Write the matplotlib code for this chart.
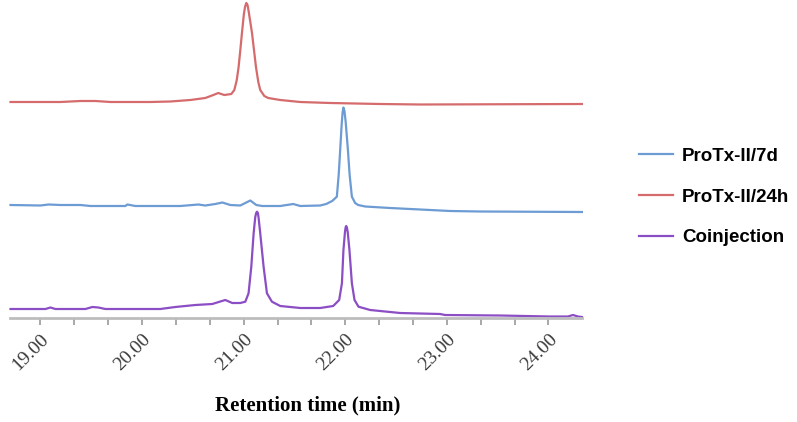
"""
HPLC overlay: ProTx-II stability (24 h, 7 d) and coinjection traces.
Signals are in arbitrary detector units, already stacked for display.
"""

import matplotlib
matplotlib.use("Agg")
import matplotlib.pyplot as plt

# ProTx-II/24h (red) -- retention time (min), signal (a.u.)
red_t = [18.705, 19.197, 19.393, 19.541, 19.688, 20.082, 20.278, 20.475, 20.622,
         20.701, 20.750, 20.809, 20.878, 20.908, 20.932, 20.950, 20.967, 20.983,
         21.001, 21.013, 21.026, 21.038, 21.050, 21.082, 21.121, 21.144, 21.163,
         21.203, 21.242, 21.360, 21.557, 21.852, 22.343, 22.737, 24.329]
red_y = [216, 216, 217, 217, 216, 216, 216.5, 218, 220,
         223, 225, 223, 224, 228, 238, 251, 268, 285,
         303, 311, 315, 313, 306, 285, 251, 236, 228,
         222, 220, 218, 216, 215, 214, 213.5, 214]

# ProTx-II/7d (blue)
blue_t = [18.705, 19.000, 19.079, 19.197, 19.393, 19.492, 19.836, 19.855, 19.934,
          20.377, 20.554, 20.622, 20.721, 20.790, 20.868, 20.967, 21.065, 21.124,
          21.183, 21.360, 21.488, 21.557, 21.753, 21.812, 21.871, 21.917, 21.935,
          21.950, 21.964, 21.974, 21.982, 21.992, 22.004, 22.026, 22.043, 22.065,
          22.097, 22.127, 22.196, 22.441, 22.737, 23.031, 23.326, 24.329]
blue_y = [113, 112.5, 113.5, 113, 113, 112, 112, 113.5, 112,
          112, 113.5, 112.5, 114, 115.5, 113, 112.5, 117.5, 113,
          112, 112, 114, 112, 112.5, 114, 117, 121.3, 143,
          168, 193, 206, 210.5, 207, 196, 168, 143, 121.3,
          115, 113, 111.5, 110, 108.5, 107, 106.5, 106]

# Coinjection (purple)
purple_t = [18.705, 19.049, 19.098, 19.147, 19.442, 19.511, 19.570, 19.639, 20.180,
            20.327, 20.524, 20.691, 20.770, 20.819, 20.888, 20.967, 21.016, 21.048,
            21.075, 21.098, 21.114, 21.123, 21.131, 21.140, 21.147, 21.163, 21.196,
            21.229, 21.278, 21.360, 21.557, 21.753, 21.881, 21.940, 21.967, 21.982,
            21.997, 22.003, 22.009, 22.016, 22.024, 22.041, 22.065, 22.091, 22.130,
            22.245, 22.540, 22.933, 22.982, 23.523, 24.015, 24.192, 24.241, 24.290,
            24.329]
purple_y = [9, 9, 10.5, 9, 9, 11, 10.5, 9, 9,
            11, 13, 14, 16.5, 18, 15, 15, 16.3, 24.7,
            51.3, 84.7, 101, 105, 106.3, 105, 100, 84.7, 51.3,
            24.7, 16.3, 12, 10, 10, 12, 18, 34.7, 68,
            86, 90.5, 92, 90.5, 86, 68, 34.7, 18, 11.3,
            8, 5, 4, 3, 2.5, 1.5, 1.5, 3, 1.5,
            1]

tick_pos = [19 + k / 3 for k in range(16)]
tick_lab = ["19.00", "", "", "20.00", "", "", "21.00", "", "",
            "22.00", "", "", "23.00", "", "", "24.00"]

RED, BLUE, PURPLE = "#d56b6c", "#6d9bd3", "#8c4ec4"

fig = plt.figure(figsize=(7.97, 4.22), dpi=100)
ax = fig.add_axes([10 / 797, 1 - 318 / 422, 572 / 797, 318 / 422])

l_red, = ax.plot(red_t, red_y, color=RED, lw=1.6, clip_on=False)
l_blue, = ax.plot(blue_t, blue_y, color=BLUE, lw=1.6, clip_on=False)
l_pur, = ax.plot(purple_t, purple_y, color=PURPLE, lw=1.6, clip_on=False)

ax.set_xlim(18.70, 24.33)
ax.set_ylim(0, 318)
for s in ("left", "right", "top"):
    ax.spines[s].set_visible(False)
ax.spines["bottom"].set_color("#bdbdbd")
ax.spines["bottom"].set_linewidth(2)
ax.set_yticks([])
ax.set_xticks(tick_pos)
ax.set_xticklabels(tick_lab, rotation=45, ha="right", va="top",
                   rotation_mode="anchor", family="Liberation Serif",
                   fontsize=14, color="#3a3a3a")
ax.tick_params(axis="x", direction="out", length=5, width=1.2, color="#9a9a9a",
               pad=4)
ax.set_xlabel("Retention time (min)", family="Liberation Serif",
              fontweight="bold", fontsize=15, va="center")
ax.xaxis.set_label_coords((308 - 10) / 572, (318 - 405) / 318)

fig.legend([l_blue, l_red, l_pur], ["ProTx-II/7d", "ProTx-II/24h", "Coinjection"],
           loc="center left", bbox_to_anchor=(622 / 797, 1 - 197 / 422),
           frameon=False, handlelength=1.8, handletextpad=0.5, labelspacing=1.25,
           prop={"family": "Liberation Sans", "weight": "bold", "size": 13.5})

fig.savefig("out.png", dpi=100)
